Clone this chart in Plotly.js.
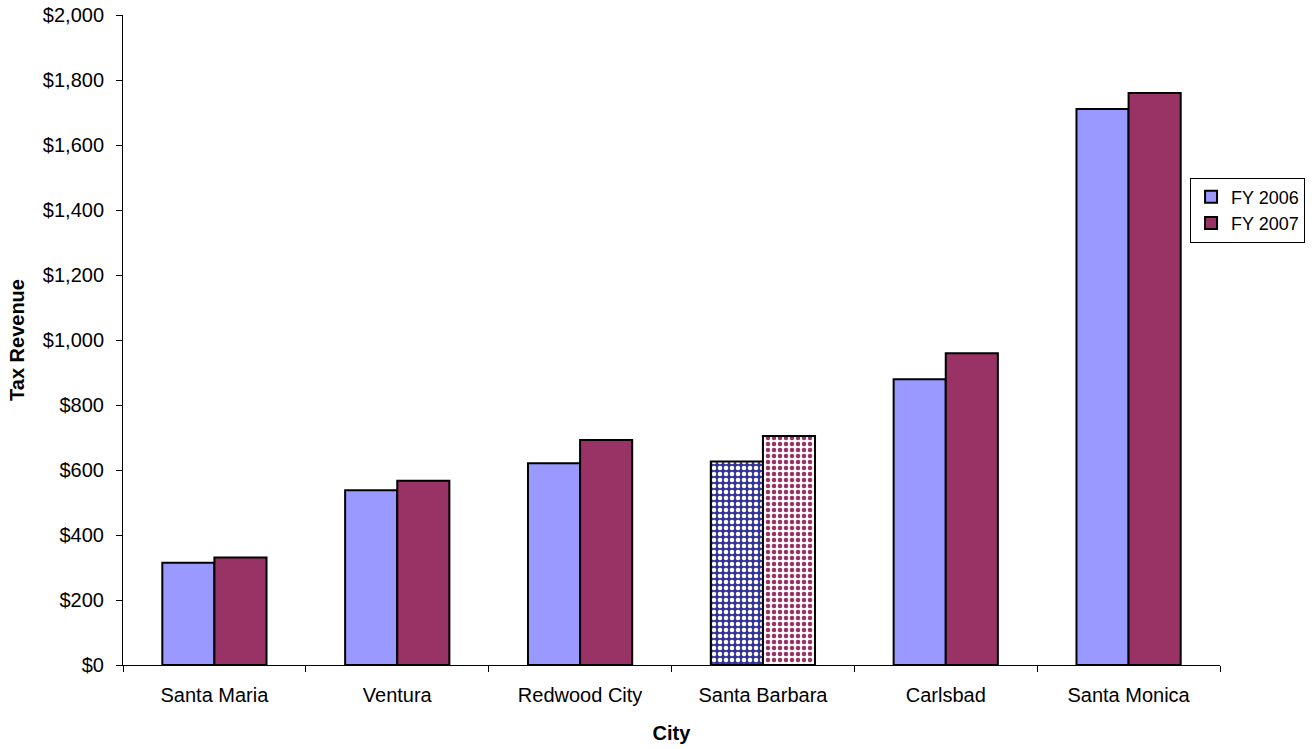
<!DOCTYPE html>
<html>
<head>
<meta charset="utf-8">
<script src="https://cdn.plot.ly/plotly-3.0.1.min.js"></script>
<style>html,body{margin:0;padding:0;background:#fff;}#chart{width:1312px;height:749px;}</style>
</head>
<body>
<div id="chart"></div>
<script>
var cities = ["Santa Maria", "Ventura", "Redwood City", "Santa Barbara", "Carlsbad", "Santa Monica"];
var fy2006 = [315, 538, 621, 626, 879, 1711];
var fy2007 = [331, 567, 692, 705, 959, 1760];
var seriesNames = ["FY 2006", "FY 2007"];
var highlightCity = "Santa Barbara";

var font = "Arial, 'Liberation Sans', sans-serif";
function patternFor(bg, fg, solid) {
  return {
    shape: cities.map(function (c) { return c === highlightCity ? "." : ""; }),
    bgcolor: cities.map(function (c) { return c === highlightCity ? bg : solid; }),
    fgcolor: cities.map(function (c) { return c === highlightCity ? fg : solid; }),
    size: 6,
    solidity: 0.45,
    fillmode: "replace"
  };
}

var traces = [
  {
    type: "bar", name: seriesNames[0], x: cities, y: fy2006,
    marker: { color: "#9999FF", line: { color: "#000", width: 2 },
      pattern: patternFor("#333399", "#FFFFFF", "#9999FF") }
  },
  {
    type: "bar", name: seriesNames[1], x: cities, y: fy2007,
    marker: { color: "#993366", line: { color: "#000", width: 2 },
      pattern: patternFor("#FFFFFF", "#993366", "#993366") }
  }
];

var layout = {
  width: 1312, height: 749,
  margin: { l: 123, r: 92, t: 15, b: 84, autoexpand: false },
  paper_bgcolor: "#fff", plot_bgcolor: "#fff",
  font: { family: font, size: 20, color: "#000" },
  barmode: "group", bargap: 0.43, bargroupgap: 0,
  showlegend: true,
  legend: {
    x: 0.9727, xanchor: "left", y: 0.75, yanchor: "top",
    bordercolor: "#000", borderwidth: 1, bgcolor: "#fff",
    font: { family: font, size: 18 }, tracegroupgap: 0, itemwidth: 30
  },
  xaxis: {
    title: { text: "<b>City</b>", font: { family: font, size: 20 }, standoff: 20 },
    showline: true, linecolor: "#000", linewidth: 1,
    ticks: "outside", tickson: "boundaries", ticklen: 6, tickcolor: "#000",
    ticklabelstandoff: 12,
    showgrid: false, zeroline: false,
    tickfont: { family: font, size: 20 }
  },
  yaxis: {
    title: { text: "<b>Tax Revenue</b>", font: { family: font, size: 20 }, standoff: 12 },
    range: [0, 2000], dtick: 200, tickprefix: "$", tickformat: ",d",
    showline: true, linecolor: "#000", linewidth: 1,
    ticks: "outside", ticklen: 6, tickcolor: "#000",
    ticklabelstandoff: 8,
    showgrid: false, zeroline: false,
    tickfont: { family: font, size: 20 }
  }
};

Plotly.newPlot("chart", traces, layout, { displayModeBar: false });
</script>
</body>
</html>
